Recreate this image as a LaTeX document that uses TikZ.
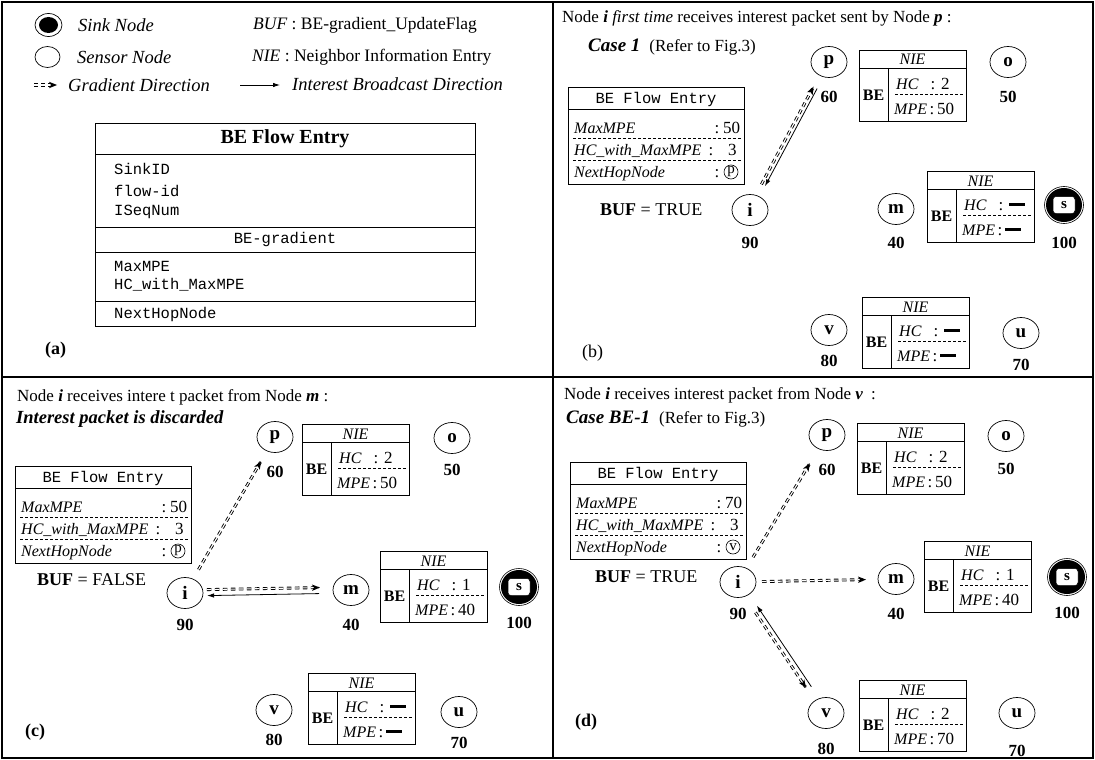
\documentclass[tikz,border=0pt]{standalone}
\usepackage{fontspec}
\setmainfont{Liberation Serif}
\setmonofont{Liberation Mono}
\usetikzlibrary{calc,shapes.geometric,decorations.markings,arrows.meta}
\newcommand\fsz[1]{\fontsize{#1}{#1}\selectfont}
\newcommand\nodash{\rule[4.5pt]{16pt}{2.2pt}}
\newcommand\bif{\bfseries\itshape\fsz{19}}
\tikzset{
  box/.style={line width=0.8pt},
  sep/.style={line width=0.6pt, dash pattern=on 3pt off 2pt},
  sensor/.style={ellipse, draw, line width=0.7pt, minimum width=36pt, minimum height=31pt, inner sep=0pt, font=\fsz{19}\bfseries},
  lbl/.style={inner sep=0pt, font=\fsz{17}\bfseries},
  txt/.style={inner sep=0pt, anchor=west, font=\fsz{17}},
  itf/.style={inner sep=0pt, anchor=west, font=\itshape\fsz{18.5}},
  rowt/.style={inner sep=0pt, anchor=base west, font=\itshape\fsz{16}},
  valb/.style={inner sep=0pt, anchor=base west, font=\fsz{17}},
  colb/.style={inner sep=0pt, anchor=base, font=\fsz{17}},
  mono/.style={inner sep=0pt, anchor=west, font=\ttfamily\fsz{15.5}},
  grad/.style={line width=0.9pt, double distance=1.1pt, dash pattern=on 4.5pt off 3.5pt,
    postaction={decorate, decoration={markings, mark=at position 1 with {\fill[solid] (1pt,0) -- (-7pt,3.2pt) -- (-5pt,0) -- (-7pt,-3.2pt) -- cycle;}}}},
  gdash/.style={line width=0.9pt, dash pattern=on 4pt off 3pt},
  bcast/.style={line width=0.8pt, -{Latex[length=7pt,width=4.5pt]}},
  plabel/.style={inner sep=0pt, anchor=west, font=\fsz{18}}
}
% connector helpers: from node #1 to node #2, gap #3 at #1, gap #4 at #2, side offset #5
\newcommand\gradln[5]{\draw[grad] ($($(#1)!#3!(#2)$)!#5!90:(#2)$) -- ($($(#2)!#4!(#1)$)!#5!-90:(#1)$);}
\newcommand\bcastln[5]{\draw[bcast] ($($(#1)!#3!(#2)$)!#5!90:(#2)$) -- ($($(#2)!#4!(#1)$)!#5!-90:(#1)$);}
% small BE flow entry box
\newcommand\flowbox[6]{%
\begin{scope}[shift={(#2,#3)}]
\draw[box] (0,0) rectangle (176,97);
\draw[box] (0,22) -- (176,22);
\node[font=\ttfamily\fsz{15.5}, inner sep=0pt, anchor=base] (#1h) at (88,16.5) {BE Flow Entry};
\node[rowt] (#1r1) at (6,46) {MaxMPE};
\node[colb] (#1c1) at (149,46) {:};
\node[valb] (#1v1) at (155,46) {#4};
\draw[sep] (5,51) -- (173,51);
\node[rowt] (#1r2) at (6,68) {HC\_with\_MaxMPE};
\node[colb] (#1c2) at (143,68) {:};
\node[valb] (#1v2) at (160,68) {#5};
\draw[sep] (5,73) -- (173,73);
\node[rowt] (#1r3) at (6,90) {NextHopNode};
\node[colb] (#1c3) at (149,90) {:};
\node[circle, draw, line width=0.6pt, inner sep=0pt, minimum size=14pt, font=\fsz{15}] (#1n) at (163,85) {#6};
\end{scope}}
% NIE box
\newcommand\niebox[5]{%
\begin{scope}[shift={(#2,#3)}]
\draw[box] (0,0) rectangle (107,71);
\draw[box] (0,18) -- (107,18);
\draw[box] (29,18) -- (29,71);
\node[inner sep=0pt, anchor=base, font=\itshape\fsz{16}] (#1t) at (53.5,15) {NIE};
\node[inner sep=0pt, anchor=base, font=\bfseries\fsz{16}] (#1b) at (14.5,50) {BE};
\node[rowt] (#1hc) at (37,39) {HC};
\node[colb] (#1c1) at (74,39) {:};
\node[valb] (#1v1) at (82,39) {#4};
\draw[sep] (36,44) -- (104,44);
\node[rowt] (#1mp) at (35,64) {MPE};
\node[colb] (#1c2) at (73,64) {:};
\node[valb] (#1v2) at (78,64) {#5};
\end{scope}}
% sink node
\newcommand\sink[3]{%
\node[ellipse, fill=black, minimum width=36pt, minimum height=34pt, inner sep=0pt] (#1) at (#2,#3) {};
\draw[line width=0.6pt] (#1) ellipse[x radius=19.5pt, y radius=18.5pt];
\node[rounded corners=3pt, fill=white, draw=black, line width=0.5pt, minimum width=22pt, minimum height=17pt, inner sep=0pt, font=\fsz{15}\bfseries] (#1in) at (#1) {s};}

\begin{document}
\begin{tikzpicture}[x=1pt,y=-1pt]
\useasboundingbox (0,0) rectangle (1095,760);
\fill[white] (0,0) rectangle (1095,760);
% frame
\draw[line width=2pt] (2,2) rectangle (1093,758);
\draw[line width=2pt] (553,2) -- (553,758);
\draw[line width=2pt] (2,377) -- (1093,377);

% ---------------- panel (a) ----------------
\node[ellipse, fill=black, minimum width=19pt, minimum height=16pt, inner sep=0pt] (lsink) at (48.5,25) {};
\draw[line width=0.7pt] (lsink) ellipse[x radius=13.5pt, y radius=11.5pt];
\node[itf] (lsinkt) at (78,25) {Sink Node};
\node[ellipse, draw, line width=0.7pt, minimum width=25pt, minimum height=21pt, inner sep=0pt] (lsens) at (47.5,57) {};
\node[itf] (lsenst) at (77,57) {Sensor Node};
\coordinate (lg1) at (34,85);
\coordinate (lg2) at (51,85);
\coordinate (lg3) at (57,85);
\draw[gdash] ([yshift=1.1pt]lg1) -- ([yshift=1.1pt]lg2);
\draw[gdash] ([yshift=-1.1pt]lg1) -- ([yshift=-1.1pt]lg2);
\fill (lg3) -- ++(-8pt,3.2pt) -- ++(2pt,-3.2pt) -- ++(-2pt,-3.2pt) -- cycle;
\node[itf] (lgt) at (68,85) {Gradient Direction};
\coordinate (lb1) at (240,85);
\coordinate (lb2) at (280,85);
\draw[bcast] (lb1) -- (lb2);
\node[itf] (lbt) at (292,84) {Interest Broadcast Direction};
\node[txt, font=\fsz{17.5}] (lbuf) at (253,25) {\textit{BUF} : BE-gradient\_UpdateFlag};
\node[txt, font=\fsz{17.5}] (lnie) at (252,57) {\textit{NIE} : Neighbor Information Entry};
% big table
\draw[box] (95,123) rectangle (475,326);
\draw[box] (95,154) -- (475,154);
\draw[box] (95,227) -- (475,227);
\draw[box] (95,252) -- (475,252);
\draw[box] (95,301) -- (475,301);
\node[inner sep=0pt, font=\bfseries\fsz{20}] (tbh) at (285,139) {BE Flow Entry};
\node[mono] (tb1) at (114,169) {SinkID};
\node[mono] (tb2) at (114,191) {flow-id};
\node[mono] (tb3) at (114,212) {ISeqNum};
\node[inner sep=0pt, font=\ttfamily\fsz{15.5}] (tb4) at (285,239) {BE-gradient};
\node[mono] (tb5) at (114,266) {MaxMPE};
\node[mono] (tb6) at (114,285) {HC\_with\_MaxMPE};
\node[mono] (tb7) at (114,314) {NextHopNode};
\node[plabel, font=\bfseries\fsz{18}] (la) at (45,350) {(a)};

% ---------------- panel (b) ----------------
\node[txt] (bh1) at (562,18) {Node \textbf{\textit{i}} \textit{first time} receives interest packet sent by Node \textbf{\textit{p}} :};
\node[txt] (bh2) at (588,47) {{\bif Case 1}\hspace{9pt}(Refer to Fig.3)};
\flowbox{bf}{568}{87}{50}{3}{p}
\node[txt, font=\fsz{18}] (bbuf) at (600,210) {\textbf{BUF} = TRUE};
\node[sensor] (bp) at (829,62) {p};
\node[lbl] (bpl) at (829,97) {60};
\niebox{bn1}{859}{50}{2}{50}
\node[sensor] (bo) at (1008,62) {o};
\node[lbl] (bol) at (1008,97) {50};
\node[sensor] (bi) at (750,210) {i};
\node[lbl] (bil) at (750,243) {90};
\node[sensor] (bm) at (896,209) {m};
\node[lbl] (bml) at (896,243) {40};
\niebox{bn2}{927}{171}{\nodash}{\nodash}
\sink{bs}{1064}{205}
\node[lbl] (bsl) at (1064,243) {100};
\node[sensor] (bv) at (829,330) {v};
\node[lbl] (bvl) at (829,361) {80};
\niebox{bn3}{862}{297}{\nodash}{\nodash}
\node[sensor] (bu) at (1021,333) {u};
\node[lbl] (bul) at (1021,365) {70};
\node[plabel] (lb) at (582,353) {(b)};
\bcastln{bp}{bi}{29pt}{28pt}{2pt}
\gradln{bi}{bp}{28pt}{30pt}{2pt}

% ---------------- panel (c) ----------------
\node[txt] (ch1) at (17,397) {Node \textbf{\textit{i}} receives intere t packet from Node \textbf{\textit{m}} :};
\node[txt] (ch2) at (16,419) {{\bif\fsz{18.5}Interest packet is discarded}};
\flowbox{cf}{15}{466}{50}{3}{p}
\node[txt, font=\fsz{18}] (cbuf) at (37,580) {\textbf{BUF} = FALSE};
\node[sensor] (cp) at (275,437) {p};
\node[lbl] (cpl) at (275,472) {60};
\niebox{cn1}{302}{424}{2}{50}
\node[sensor] (co) at (452,438) {o};
\node[lbl] (col) at (452,470) {50};
\node[sensor] (ci) at (185,593) {i};
\node[lbl] (cil) at (185,625) {90};
\node[sensor] (cm) at (351,590) {m};
\node[lbl] (cml) at (351,625) {40};
\niebox{cn2}{380}{551}{1}{40}
\sink{cs}{519}{587}
\node[lbl] (csl) at (519,623) {100};
\node[sensor] (cv) at (274,710) {v};
\node[lbl] (cvl) at (274,740) {80};
\niebox{cn3}{308}{673}{\nodash}{\nodash}
\node[sensor] (cu) at (459,712) {u};
\node[lbl] (cul) at (459,743) {70};
\node[plabel, font=\bfseries\fsz{18}] (lc) at (25,732) {(c)};
\gradln{ci}{cp}{27pt}{29pt}{0pt}
\gradln{ci}{cm}{22pt}{32pt}{3pt}
\bcastln{cm}{ci}{32pt}{22pt}{3pt}

% ---------------- panel (d) ----------------
\node[txt] (dh1) at (564,395) {Node \textbf{\textit{i}} receives interest packet from Node \textbf{\textit{v}}\hspace{8pt}:};
\node[txt] (dh2) at (566,419) {{\bif Case BE-1}\hspace{9pt}(Refer to Fig.3)};
\flowbox{df}{570}{462}{70}{3}{v}
\node[txt, font=\fsz{18}] (dbuf) at (595,577) {\textbf{BUF} = TRUE};
\node[sensor] (dp) at (827,435) {p};
\node[lbl] (dpl) at (827,470) {60};
\niebox{dn1}{857}{423}{2}{50}
\node[sensor] (do) at (1006,436) {o};
\node[lbl] (dol) at (1006,469) {50};
\node[sensor] (di) at (738,582) {i};
\node[lbl] (dil) at (738,614) {90};
\node[sensor] (dm) at (896,579) {m};
\node[lbl] (dml) at (896,614) {40};
\niebox{dn2}{924}{541}{1}{40}
\sink{ds}{1067}{577}
\node[lbl] (dsl) at (1067,613) {100};
\node[sensor] (dv) at (826,713) {v};
\node[lbl] (dvl) at (826,749) {80};
\niebox{dn3}{859}{680}{2}{70}
\node[sensor] (du) at (1017,713) {u};
\node[lbl] (dul) at (1017,751) {70};
\node[plabel, font=\bfseries\fsz{18}] (ld) at (575,722) {(d)};
\gradln{di}{dp}{29pt}{34pt}{0pt}
\gradln{di}{dm}{24pt}{31pt}{0pt}
\gradln{di}{dv}{35pt}{33pt}{-2.5pt}
\bcastln{dv}{di}{30pt}{30pt}{-2.5pt}
\end{tikzpicture}
\end{document}
